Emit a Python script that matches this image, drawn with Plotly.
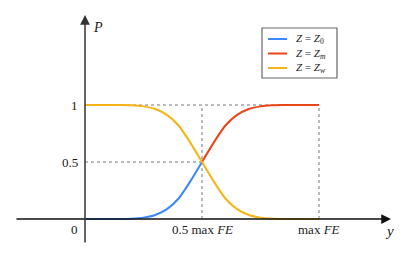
import plotly.graph_objects as go

# Data (x in units of max FE)
x_blue = [0.0, 0.1, 0.15, 0.2, 0.25, 0.3, 0.35, 0.4, 0.45, 0.5]
p_blue = [0.0, 0.0, 0.001, 0.003, 0.012, 0.035, 0.087, 0.18, 0.33, 0.5]

x_red = [0.5, 0.55, 0.6, 0.65, 0.7, 0.75, 0.8, 0.85, 0.9, 1.0]
p_red = [0.5, 0.67, 0.82, 0.913, 0.965, 0.988, 0.997, 0.999, 1.0, 1.0]

x_yellow = [0.0, 0.1, 0.15, 0.2, 0.25, 0.3, 0.35, 0.4, 0.45, 0.5,
            0.55, 0.6, 0.65, 0.7, 0.75, 0.8, 0.85, 0.9, 1.0]
p_yellow = [1.0, 1.0, 0.999, 0.997, 0.988, 0.965, 0.913, 0.82, 0.67, 0.5,
            0.33, 0.18, 0.087, 0.035, 0.012, 0.003, 0.001, 0.0, 0.0]

series_names = ["<i>Z</i> = <i>Z</i><sub>0</sub>",
                "<i>Z</i> = <i>Z</i><sub><i>m</i></sub>",
                "<i>Z</i> = <i>Z</i><sub><i>w</i></sub>"]
colors = ["#3a88fd", "#ea4419", "#f4b416"]

y_ticks = [0.5, 1]
y_tick_labels = ["0.5", "1"]
x_ticks = [0.5, 1.0]
x_tick_labels = ["0.5 max <i>FE</i>", "max <i>FE</i>"]

W, H = 416, 259
x0px, x1px = 85, 319
y0px, y1px = 219, 105
xs = (x1px - x0px)
ys = (y0px - y1px)
xrange = [-x0px / xs, (W - x0px) / xs]
yrange = [-(H - y0px) / ys, y0px / ys]

FONT = "Liberation Serif, DejaVu Serif, serif"
TXT = "#1a1a1a"

fig = go.Figure()

# guide lines
guide = dict(color="#777777", width=1, dash="dot")
fig.add_shape(type="line", x0=0, x1=1, y0=1, y1=1, line=guide, layer="below")
fig.add_shape(type="line", x0=1, x1=1, y0=0, y1=1, line=guide, layer="below")
fig.add_shape(type="line", x0=0.5, x1=0.5, y0=0, y1=1, line=guide, layer="below")
fig.add_shape(type="line", x0=0, x1=0.5, y0=0.5, y1=0.5, line=guide, layer="below")

for xv, pv, name, c in zip([x_blue, x_red, x_yellow], [p_blue, p_red, p_yellow],
                           series_names, colors):
    fig.add_trace(go.Scatter(x=xv, y=pv, mode="lines", name=name, showlegend=False,
                             hoverinfo="skip",
                             line=dict(color=c, width=2, shape="spline", smoothing=0.6)))

# axes lines with arrows
x_left = (15 - x0px) / xs
x_right = (391 - x0px) / xs
y_bottom = (y0px - 244) / ys
y_top = (y0px - 15) / ys
fig.add_annotation(x=x_right, y=0, ax=x_left, ay=0, xref="x", yref="y",
                   axref="x", ayref="y", showarrow=True, arrowhead=2,
                   arrowsize=1.3, arrowwidth=1.5, arrowcolor="#111111", text="")
fig.add_annotation(x=0, y=y_top, ax=0, ay=y_bottom, xref="x", yref="y",
                   axref="x", ayref="y", showarrow=True, arrowhead=2,
                   arrowsize=1.3, arrowwidth=1.5, arrowcolor="#333333", text="")

# tick labels
for yv, lab in zip(y_ticks, y_tick_labels):
    fig.add_annotation(x=-0.02, y=yv, text=lab, showarrow=False, xanchor="right",
                       yanchor="middle", font=dict(family=FONT, size=13, color=TXT))
fig.add_annotation(x=-0.02, y=-0.005, text="0", showarrow=False, xanchor="right",
                   yanchor="top", font=dict(family=FONT, size=13, color=TXT))
for xv, lab in zip(x_ticks, x_tick_labels):
    fig.add_annotation(x=xv, y=-0.01, text=lab, showarrow=False, xanchor="center",
                       yanchor="top", font=dict(family=FONT, size=13, color=TXT))

# axis titles
fig.add_annotation(x=x_right - 0.005, y=-0.02, text="<i>y</i>", showarrow=False,
                   xanchor="center", yanchor="top",
                   font=dict(family=FONT, size=15, color=TXT))
fig.add_annotation(x=0.025, y=y_top - 0.03, text="<i>P</i>", showarrow=False,
                   xanchor="left", yanchor="top",
                   font=dict(family=FONT, size=14, color=TXT))

# legend (drawn in paper pixels)
def px(v):
    return v / W

def py(v):
    return 1 - v / H

fig.add_shape(type="rect", xref="paper", yref="paper",
              x0=px(262), x1=px(337), y0=py(78), y1=py(28),
              line=dict(color="#666666", width=1.2), fillcolor="white", layer="above")
for i, (name, c) in enumerate(zip(series_names, colors)):
    yc = 39 + 14.5 * i
    fig.add_shape(type="line", xref="paper", yref="paper",
                  x0=px(268), x1=px(287), y0=py(yc), y1=py(yc),
                  line=dict(color=c, width=2), layer="above")
    fig.add_annotation(xref="paper", yref="paper", x=px(294), y=py(yc), text=name,
                       showarrow=False, xanchor="left", yanchor="middle",
                       font=dict(family=FONT, size=11, color=TXT))

fig.update_xaxes(range=xrange, visible=False, fixedrange=True)
fig.update_yaxes(range=yrange, visible=False, fixedrange=True)

fig.update_layout(
    width=W, height=H, autosize=False,
    margin=dict(l=0, r=0, t=0, b=0),
    plot_bgcolor="white", paper_bgcolor="white",
    showlegend=False, hovermode=False,
)

fig.write_html("out.html", config={"displayModeBar": False},
               post_script="document.body.style.margin='0';")
